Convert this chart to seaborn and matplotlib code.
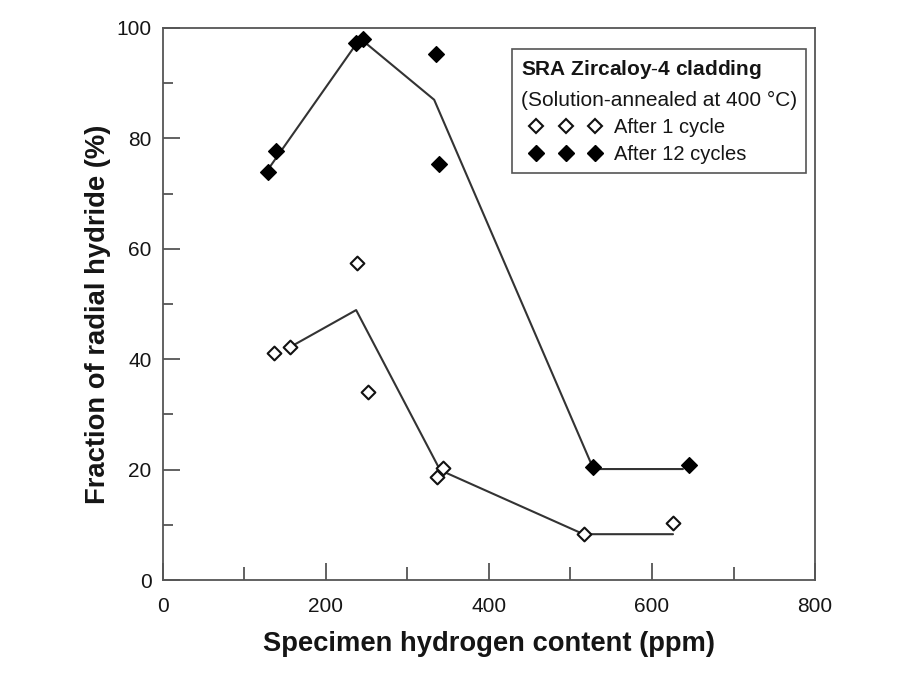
import matplotlib
matplotlib.use("Agg")
import matplotlib.pyplot as plt
import seaborn as sns
from matplotlib.lines import Line2D
from matplotlib.legend_handler import HandlerTuple
from matplotlib.ticker import MultipleLocator

# ---- data ----
ppm_1cycle = [136.6, 156.2, 238.8, 251.5, 336.9, 344.3, 516.1, 625.8]
frac_1cycle = [41.2, 42.3, 57.5, 34.1, 18.6, 20.2, 8.3, 10.3]

ppm_12cycles = [129.6, 138.7, 236.8, 245.4, 335.3, 338.7, 528.3, 645.8]
frac_12cycles = [74.0, 77.8, 97.3, 98.0, 95.3, 75.4, 20.4, 20.8]

trend_ppm_1cycle = [156.2, 237.2, 340.2, 516.1, 625.8]
trend_frac_1cycle = [42.2, 48.9, 19.9, 8.3, 8.3]

trend_ppm_12cycles = [131.7, 242.1, 332.9, 528.3, 638.0]
trend_frac_12cycles = [74.9, 98.1, 87.0, 20.1, 20.1]

x_label = "Specimen hydrogen content (ppm)"
y_label = "Fraction of radial hydride (%)"
legend_labels = ["After 1 cycle", "After 12 cycles"]
legend_title = (r"$\mathbf{SRA}$ $\mathbf{Zircaloy}$-$\mathbf{4}$ $\mathbf{cladding}$"
                "\n(Solution-annealed at 400 °C)")

sns.set_theme(style="ticks")
plt.rcParams["font.family"] = ["Liberation Sans", "DejaVu Sans"]
plt.rcParams["mathtext.fontset"] = "custom"
plt.rcParams["mathtext.rm"] = "Liberation Sans"
plt.rcParams["mathtext.bf"] = "Liberation Sans:bold"

spine_c = "#555555"
text_c = "#151515"
line_c = "#333333"

fig = plt.figure(figsize=(9.05, 6.81), dpi=100)
ax = fig.add_axes([0.1798, 0.1483, 0.7208, 0.8106])

sns.lineplot(x=trend_ppm_12cycles, y=trend_frac_12cycles, ax=ax, sort=False,
             estimator=None, color=line_c, linewidth=1.5, zorder=2)
sns.lineplot(x=trend_ppm_1cycle, y=trend_frac_1cycle, ax=ax, sort=False,
             estimator=None, color=line_c, linewidth=1.5, zorder=2)

sns.scatterplot(x=ppm_12cycles, y=frac_12cycles, ax=ax, marker="D", s=64,
                color="black", edgecolor="black", linewidth=1.0, zorder=3)
sns.scatterplot(x=ppm_1cycle, y=frac_1cycle, ax=ax, marker="D", s=49,
                color="white", edgecolor="#111111", linewidth=1.5, zorder=3)

ax.set_xlim(0, 800)
ax.set_ylim(0, 100)
ax.xaxis.set_major_locator(MultipleLocator(200))
ax.xaxis.set_minor_locator(MultipleLocator(100))
ax.yaxis.set_major_locator(MultipleLocator(20))
ax.yaxis.set_minor_locator(MultipleLocator(10))

for s in ax.spines.values():
    s.set_visible(True)
    s.set_color(spine_c)
    s.set_linewidth(1.3)

ax.tick_params(axis="both", which="both", direction="in", top=False, right=False,
               color=spine_c, width=1.3, labelcolor=text_c, labelsize=15)
ax.tick_params(axis="x", which="major", length=12, pad=12)
ax.tick_params(axis="x", which="minor", length=9.5)
ax.tick_params(axis="y", which="major", length=12, pad=8)
ax.tick_params(axis="y", which="minor", length=7.5)

ax.set_xlabel(x_label, fontsize=19.7, fontweight="bold", color=text_c, labelpad=11)
ax.set_ylabel(y_label, fontsize=19.7, fontweight="bold", color=text_c, labelpad=4)
ax.yaxis.label.set_y(0.482)

h_open = Line2D([], [], marker="D", ls="none", ms=7, mfc="white", mec="#111111", mew=1.5)
h_fill = Line2D([], [], marker="D", ls="none", ms=8, mfc="black", mec="black", mew=1.0)
leg = ax.legend(handles=[(h_open, h_open, h_open), (h_fill, h_fill, h_fill)],
                labels=legend_labels,
                handler_map={tuple: HandlerTuple(ndivide=None, pad=0)},
                title=legend_title, loc="upper right", bbox_to_anchor=(0.986, 0.962),
                fontsize=14.5, title_fontsize=15, frameon=True, fancybox=False,
                edgecolor=spine_c, framealpha=1, handlelength=4.45, handletextpad=0.2,
                borderpad=0.45, labelspacing=0.4, borderaxespad=0, alignment="left")
leg.get_frame().set_linewidth(1.2)
leg.get_title().set_color(text_c)
leg.get_title().set_linespacing(1.65)
leg.get_title().set_multialignment("left")
for t in leg.get_texts():
    t.set_color(text_c)

fig.savefig("out.png", dpi=100)
